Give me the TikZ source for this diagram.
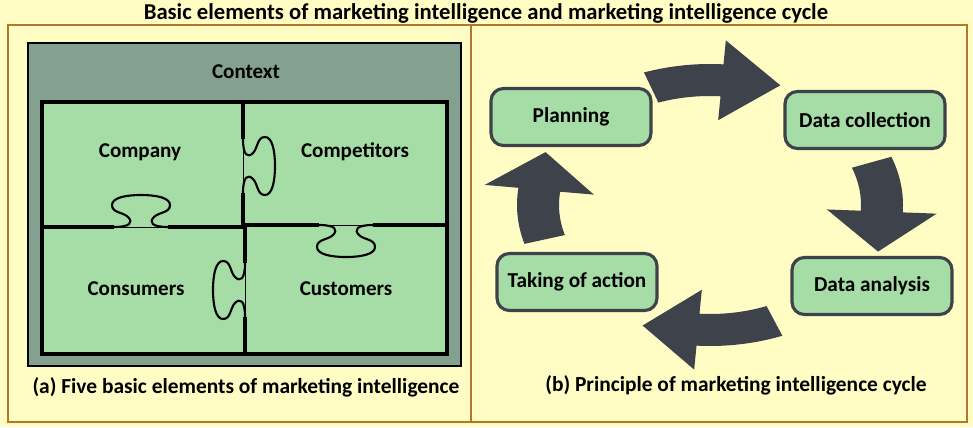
\documentclass[tikz,border=0pt]{standalone}
\usepackage{fontspec}
\setmainfont{Carlito}
\usetikzlibrary{calc}

\definecolor{bgyellow}{RGB}{255,253,196}
\definecolor{framebrown}{RGB}{176,120,40}
\definecolor{contextgreen}{RGB}{132,160,142}
\definecolor{piecegreen}{RGB}{166,221,166}
\definecolor{arrowgray}{RGB}{62,66,74}

% puzzle tab: x, y, rotation
\newcommand\knob[3]{%
  \begin{scope}[shift={(#1,#2)},rotate=#3]
    \fill[piecegreen] (-27,-3) rectangle (27,3);
    \draw[thin] (-27,0) -- (27,0);
    \draw[knobline] (-27,0) .. controls (-10,0) and (-8,5) .. (-13,10)
      .. controls (-18,15) and (-29,14) .. (-29,22)
      .. controls (-29,29) and (-16,32) .. (0,32)
      .. controls (16,32) and (29,29) .. (29,22)
      .. controls (29,14) and (18,15) .. (13,10)
      .. controls (8,5) and (10,0) .. (27,0);
  \end{scope}}

% block arrow on the cycle: tail, head base, tip (angles)
\newcommand\cycarrow[3]{%
  \fill[arrowgray] ($(cyc)+(#1:193 and 141)$)
    arc[start angle=#1, end angle=#2, x radius=193, y radius=141]
    -- ($(cyc)+(#2:227 and 165)$) -- ($(cyc)+(#3:180 and 130)$)
    -- ($(cyc)+(#2:117 and 85)$) -- ($(cyc)+(#2:151 and 109)$)
    arc[start angle=#2, end angle=#1, x radius=151, y radius=109] -- cycle;}

\begin{document}
\begin{tikzpicture}[x=0.02cm,y=0.02cm,
    frameline/.style={draw=framebrown, line width=1.4pt},
    cutline/.style={line width=2pt},
    knobline/.style={line width=1.2pt},
    titletext/.style={font=\fontsize{12.9}{15}\selectfont\bfseries},
    piecetext/.style={font=\fontsize{12}{14}\selectfont\bfseries},
    captiontext/.style={font=\fontsize{12.2}{14}\selectfont\bfseries},
    stepbox/.style={draw=arrowgray, fill=piecegreen, line width=1.8pt,
      rounded corners=7pt, minimum width=3.2cm, minimum height=1.14cm,
      font=\fontsize{12.1}{14}\selectfont\bfseries}]

    %Bakgrunn
        \fill[bgyellow] (0,0) rectangle (973,427);
        \useasboundingbox (0,0) rectangle (973,427);
        \node[titletext] (title) at (486,414) {Basic elements of marketing intelligence and marketing intelligence cycle};
        \draw[frameline] (8,5) rectangle (967,402);
        \draw[frameline] (471,5) -- (471,402);

    %Puslespill
        \filldraw[fill=contextgreen, line width=1.6pt] (28,61) rectangle (461,384);
        \node[piecetext] (context) at (246,355) {Context};
        \fill[piecegreen] (42,73) rectangle (447,325);
        \draw[cutline] (42,73) rectangle (447,325);
        \draw[cutline] (42,200) -- (243,200);
        \draw[cutline] (245,202) -- (447,202);
        \draw[cutline] (243,325) -- (243,200);
        \draw[cutline] (245,202) -- (245,73);
        %
        \knob{243}{261}{-90}
        \knob{141}{200}{0}
        \knob{346}{202}{180}
        \knob{245}{137}{90}
        %
        \node[piecetext] (company) at (140,275) {Company};
        \node[piecetext] (competitors) at (355,275) {Competitors};
        \node[piecetext] (consumers) at (136,138) {Consumers};
        \node[piecetext] (customers) at (346,138) {Customers};
        \node[captiontext] (capa) at (246,40) {(a) Five basic elements of marketing intelligence};

    %Syklus
        \coordinate (cyc) at (710,222);
        \node[stepbox] (plan) at (571,310) {Planning};
        \node[stepbox] (collect) at (865,307) {Data collection};
        \node[stepbox] (analyse) at (872,141) {Data analysis};
        \node[stepbox] (action) at (577,145) {Taking of action};
        %
        \cycarrow{110}{86}{67}
        \cycarrow{20}{-3}{-21}
        \cycarrow{-68}{-94}{-112}
        \cycarrow{196}{173}{156}
        %
        \node[captiontext] (capb) at (736,42) {(b) Principle of marketing intelligence cycle};
\end{tikzpicture}
\end{document}
